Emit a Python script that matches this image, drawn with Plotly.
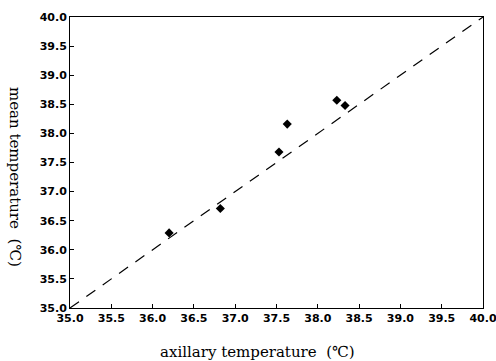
import plotly.graph_objects as go

axillary = [36.20, 36.82, 37.53, 37.63, 38.23, 38.33]
mean_temp = [36.29, 36.71, 37.68, 38.16, 38.57, 38.48]
line_x = [35.0, 40.0]
line_y = [35.0, 40.0]
tick_vals = [35.0, 35.5, 36.0, 36.5, 37.0, 37.5, 38.0, 38.5, 39.0, 39.5, 40.0]
tick_text = [f"<b>{v:.1f}</b>" for v in tick_vals]

fig = go.Figure()
fig.add_trace(go.Scatter(x=line_x, y=line_y, mode="lines",
                         line=dict(color="black", width=1.2, dash="11px,9px"),
                         showlegend=False, hoverinfo="skip"))
fig.add_trace(go.Scatter(x=axillary, y=mean_temp, mode="markers",
                         marker=dict(symbol="diamond", size=7, color="black"),
                         showlegend=False))

tickfont = dict(family="DejaVu Sans", size=11, color="black")
axis_common = dict(range=[35, 40], tickvals=tick_vals, ticktext=tick_text,
                   ticks="inside", ticklen=4, tickcolor="black", tickwidth=1,
                   showline=True, linecolor="black", linewidth=1, mirror=True,
                   showgrid=False, zeroline=False, tickfont=tickfont, automargin=False,
                   ticklabeloverflow="allow")

titlefont = dict(family="DejaVu Serif", size=15, color="black")
fig.update_layout(
    width=496, height=361,
    margin=dict(l=70, r=13, t=17, b=53),
    plot_bgcolor="white", paper_bgcolor="white",
    xaxis=dict(**axis_common),
    yaxis=dict(**axis_common),
    annotations=[
        dict(text="axillary temperature  (℃)", x=0.453, y=-0.151, xref="paper", yref="paper",
             showarrow=False, xanchor="center", yanchor="middle", font=titlefont),
        dict(text="mean temperature  (℃)", x=-0.133, y=0.45, xref="paper", yref="paper",
             showarrow=False, textangle=90, xanchor="center", yanchor="middle",
             font=titlefont),
    ],
)

fig.write_html("out.html")
